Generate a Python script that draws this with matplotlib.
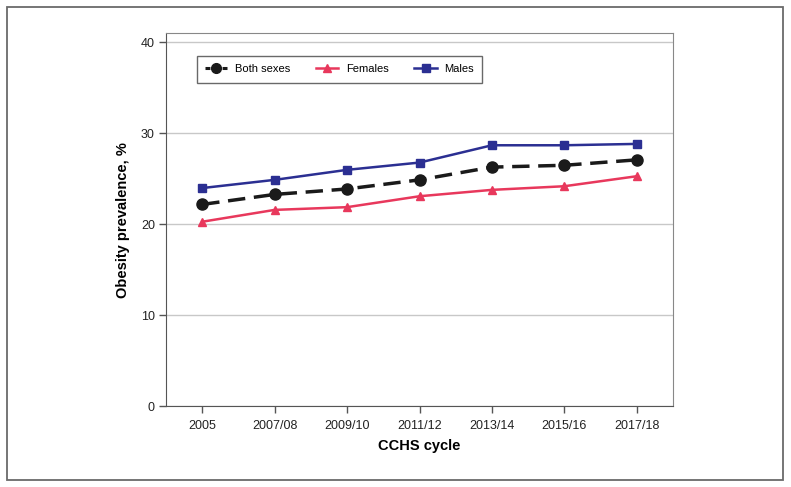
import matplotlib
matplotlib.use('Agg')
import matplotlib.pyplot as plt
from matplotlib.lines import Line2D
from matplotlib.patches import Rectangle

plt.rcParams['font.family'] = ['Liberation Sans', 'DejaVu Sans']

# Dane
cycles = ['2005', '2007/08', '2009/10', '2011/12', '2013/14', '2015/16', '2017/18']
both_sexes = [22.2, 23.3, 23.9, 24.9, 26.3, 26.5, 27.1]
females = [20.3, 21.6, 21.9, 23.1, 23.8, 24.2, 25.3]
males = [24.0, 24.9, 26.0, 26.8, 28.7, 28.7, 28.85]

black = '#1a1a1a'
pink = '#e8385c'
navy = '#2b2f92'

fig = plt.figure(figsize=(7.91, 4.87), dpi=100)
ax = fig.add_axes([0.2099, 0.1653, 0.6409, 0.7676])

x = range(len(cycles))
ax.plot(x, both_sexes, color=black, linestyle=(0, (5, 2.5)), linewidth=2.5,
        marker='o', markersize=8, zorder=3)
ax.plot(x, females, color=pink, linewidth=1.8, marker='^', markersize=5.5, zorder=3)
ax.plot(x, males, color=navy, linewidth=1.8, marker='s', markersize=5.5, zorder=3)

ax.set_xlim(-0.5, 6.5)
ax.set_ylim(0, 41.07)
ax.set_xticks(list(x))
ax.set_xticklabels(cycles)
ax.set_yticks([0, 10, 20, 30, 40])
ax.yaxis.grid(True, color='#c8c8c8', linewidth=1)
ax.set_axisbelow(True)

for side in ['left', 'bottom']:
    ax.spines[side].set_color('#555555')
for side in ['top', 'right']:
    ax.spines[side].set_color('#888888')
ax.tick_params(axis='both', labelsize=9, color='#555555', length=5, width=1,
               labelcolor='#222222')
ax.tick_params(axis='x', pad=5)
ax.tick_params(axis='y', pad=3)

ax.set_xlabel('CCHS cycle', fontsize=10.5, fontweight='bold', labelpad=5)
ax.set_ylabel('Obesity prevalence, %', fontsize=10.5, fontweight='bold', labelpad=8)

# Legenda z krótszymi kreskami
handles = [
    Line2D([], [], color=black, linestyle=(0, (1.6, 1.2)), linewidth=2.2, marker='o', markersize=7),
    Line2D([], [], color=pink, linewidth=1.8, marker='^', markersize=5.5),
    Line2D([], [], color=navy, linewidth=1.8, marker='s', markersize=5.5),
]
leg = ax.legend(handles, ['Both sexes', 'Females', 'Males'],
                loc='upper left', bbox_to_anchor=(0.061, 0.938), borderaxespad=0,
                ncol=3, fontsize=8, frameon=True, fancybox=False,
                handlelength=2.0, columnspacing=2.3, borderpad=0.75, handletextpad=0.7)
leg.get_frame().set_edgecolor('#444444')
leg.get_frame().set_linewidth(1)

# Ramka wokół całego wykresu
fig.patches.append(Rectangle((6.7 / 791, 1 - 479.5 / 487), (783 - 6.7) / 791, (479.5 - 6.7) / 487,
                             transform=fig.transFigure, fill=False,
                             edgecolor='#6a6a6a', linewidth=1.3))

fig.savefig('out.png', dpi=100)
